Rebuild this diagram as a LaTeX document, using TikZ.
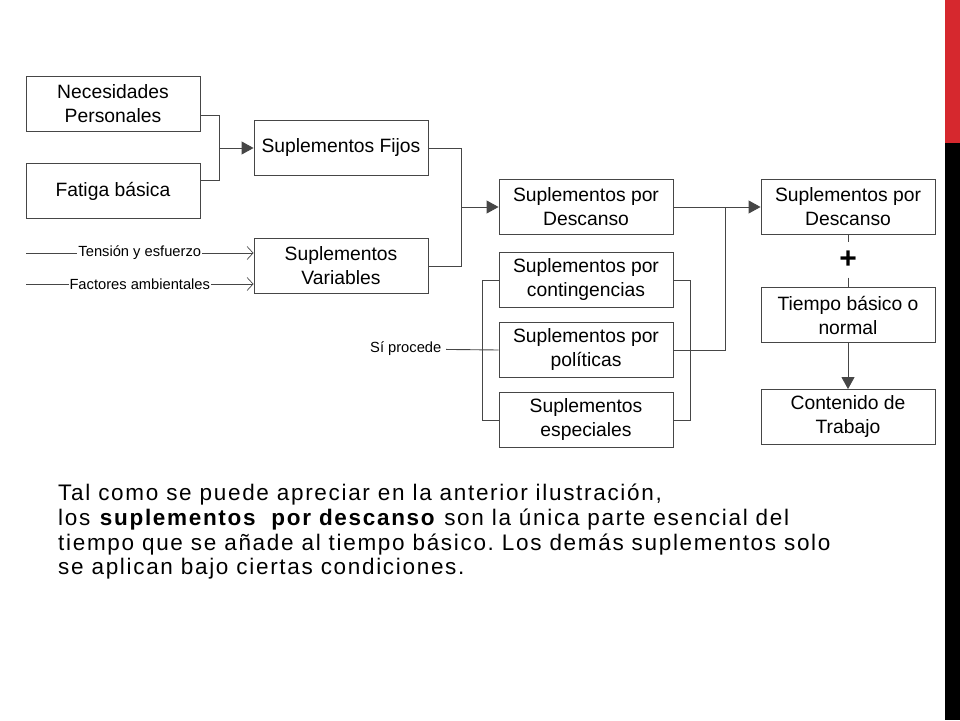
\documentclass[tikz,border=0pt]{standalone}
\usepackage{fontspec}
\setmainfont{Liberation Sans}
\usetikzlibrary{positioning, calc, arrows.meta}

\definecolor{barrarojo}{RGB}{214,40,46}
\definecolor{linea}{RGB}{70,70,70}

\begin{document}
\frenchspacing
\begin{tikzpicture}[
            x=1pt, y=-1pt,
            caja/.style={draw=linea, line width=0.9pt, align=center, minimum width=174pt, minimum height=55pt, inner sep=2pt, font=\fontsize{19.3}{24}\selectfont},
            conector/.style={draw=linea, line width=0.9pt},
            flecha/.style={conector, -{Triangle[length=12pt, width=13pt]}},
            abierta/.style={conector, -{Straight Barb[length=6pt, width=13pt, line width=0.7pt]}},
            etiqueta/.style={fill=white, inner sep=1pt, font=\fontsize{14.7}{16}\selectfont}
        ]
            \useasboundingbox (0,0) rectangle (960,720);

            % barra lateral
            \fill[barrarojo] (945,0) rectangle (960,143);
            \fill[black] (945,143) rectangle (960,720);

            % primera columna
            \node[caja] (necesidades) at (113,104) {Necesidades\\Personales};
            \node[caja] (fatiga) at (113,191) {Fatiga básica};
            \coordinate (tension) at (26,253);
            \coordinate (factores) at (26,284);

            % segunda columna
            \node[caja] (fijos) at (341,148) {Suplementos Fijos};
            \node[caja] (variables) at (341,266) {Suplementos\\Variables};

            % tercera columna
            \node[caja] (descanso) at (586,207) {Suplementos por\\Descanso};
            \node[caja] (contingencias) at (586,280) {Suplementos por\\contingencias};
            \node[caja] (politicas) at (586,350) {Suplementos por\\políticas};
            \node[caja] (especiales) at (586,420) {Suplementos\\especiales};
            \node[etiqueta, inner sep=4.5pt, anchor=east] (procede) at (446,349) {Sí procede};

            % cuarta columna
            \node[caja] (descansoR) at (848,207) {Suplementos por\\Descanso};
            \node[inner sep=0pt, minimum height=35pt, font=\fontsize{30}{30}\selectfont\bfseries] (mas) at (848,260) {+};
            \node[caja] (tiempo) at (848,315) {Tiempo básico o\\normal};
            \node[caja] (contenido) at (848,417) {Contenido de\\Trabajo};

            % suplementos fijos
            \draw[conector] ([yshift=-11pt]necesidades.east) -- ++(19,0) coordinate (j1) |- ([yshift=11pt]fatiga.east);
            \draw[flecha] (j1 |- fijos.west) -- (fijos.west);

            % suplementos variables
            \draw[abierta] (tension) -- node[etiqueta] {Tensión y esfuerzo} (tension -| variables.west);
            \draw[abierta] (factores) -- node[etiqueta] {Factores ambientales} (factores -| variables.west);

            % hacia suplementos por descanso
            \draw[conector] (fijos.east) -- ++(33,0) coordinate (j2) |- (variables.east);
            \draw[flecha] (j2 |- descanso.west) -- (descanso.west);

            % suplementos condicionales
            \draw[conector] (contingencias.west) -- ++(-16,0) |- (especiales.west);
            \draw[conector] (procede) -- (politicas.west);
            \draw[conector] (contingencias.east) -- ++(17,0) |- (especiales.east);
            \draw[conector] (politicas.east) -- ++(52,0) |- (descanso.east);
            \draw[flecha] (descanso.east) -- (descansoR.west);

            % suma
            \draw[conector] (descansoR) -- (mas) -- (tiempo);
            \draw[flecha] (tiempo) -- (contenido);

            % texto
            \node[anchor=north west, align=left, inner sep=0pt, font=\fontsize{22.5}{24.7}\selectfont\addfontfeature{LetterSpace=7.5}] (texto) at (58,484)
                {Tal como se puede apreciar en la anterior ilustración,\\
                 los \textbf{suplementos\ \ por descanso} son la única parte esencial del\\
                 tiempo que se añade al tiempo básico. Los demás suplementos solo\\
                 se aplican bajo ciertas condiciones.};
          \end{tikzpicture}
\end{document}
